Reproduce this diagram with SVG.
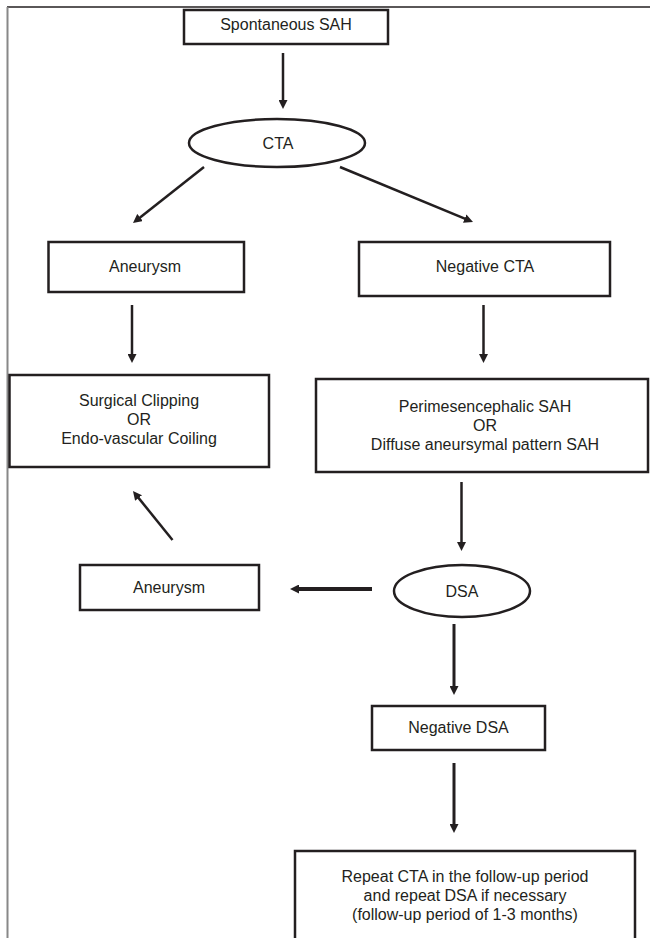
<svg xmlns="http://www.w3.org/2000/svg" width="650" height="938" viewBox="0 0 650 938">
<style>
.box{fill:#fff;stroke:#231f20;stroke-width:2.5}
.t{font-family:"Liberation Sans",Arial,sans-serif;font-size:16px;fill:#231f20;text-anchor:middle}
.c{stroke:#231f20;stroke-width:2.5;fill:none;marker-end:url(#ah)}
</style>
<defs>
<marker id="ah" markerUnits="userSpaceOnUse" viewBox="0 0 9 9" markerWidth="9" markerHeight="9" refX="4" refY="4.5" orient="auto">
<path d="M0,0 L9,4.5 L0,9 z" fill="#231f20"/>
</marker>
</defs>
<rect width="650" height="938" fill="#fff"/>
<g id="frame">
<line x1="7" y1="7" x2="650" y2="7" stroke="#231f20" stroke-width="1.5"/>
<line x1="7.5" y1="7" x2="7.5" y2="938" stroke="#888" stroke-width="2"/>
</g>
<g id="connectors">
<line class="c" x1="283" y1="53" x2="283" y2="104"/>
<line class="c" x1="204" y1="167" x2="136.9" y2="219.9"/>
<line class="c" x1="340" y1="167" x2="468.4" y2="220.1"/>
<line class="c" x1="132" y1="305" x2="132" y2="358"/>
<line class="c" x1="483.5" y1="305" x2="483.5" y2="358"/>
<line class="c" x1="461.5" y1="482" x2="461.5" y2="546"/>
<line class="c" x1="172.5" y1="540" x2="136.1" y2="494.9"/>
<line class="c" x1="372" y1="589" x2="295" y2="589" style="stroke-width:4"/>
<line class="c" x1="454" y1="624" x2="454" y2="690" style="stroke-width:3"/>
<line class="c" x1="454" y1="763" x2="454" y2="828" style="stroke-width:3"/>
</g>
<g id="spontaneous">
<rect class="box" x="184" y="10" width="204" height="34"/>
<text class="t" x="286" y="30">Spontaneous SAH</text>
</g>
<g id="cta">
<ellipse class="box" cx="277" cy="143" rx="88" ry="24"/>
<text class="t" x="278" y="149">CTA</text>
</g>
<g id="aneurysm1">
<rect class="box" x="48.5" y="242" width="195.5" height="50"/>
<text class="t" x="145" y="272">Aneurysm</text>
</g>
<g id="negcta">
<rect class="box" x="359" y="242" width="251" height="54"/>
<text class="t" x="485" y="272">Negative CTA</text>
</g>
<g id="treatment">
<rect class="box" x="9.5" y="375" width="259.5" height="92"/>
<text class="t" x="139" y="406">Surgical Clipping</text>
<text class="t" x="139" y="425">OR</text>
<text class="t" x="139" y="444">Endo-vascular Coiling</text>
</g>
<g id="pattern">
<rect class="box" x="316" y="379" width="332" height="93"/>
<text class="t" x="485" y="412">Perimesencephalic SAH</text>
<text class="t" x="485" y="431">OR</text>
<text class="t" x="485" y="450">Diffuse aneursymal pattern SAH</text>
</g>
<g id="aneurysm2">
<rect class="box" x="80" y="565" width="179" height="45"/>
<text class="t" x="169" y="593">Aneurysm</text>
</g>
<g id="dsa">
<ellipse class="box" cx="462" cy="591" rx="68" ry="26"/>
<text class="t" x="462" y="597">DSA</text>
</g>
<g id="negdsa">
<rect class="box" x="372" y="706" width="173" height="44"/>
<text class="t" x="458.5" y="733">Negative DSA</text>
</g>
<g id="repeat">
<rect class="box" x="295" y="851" width="340" height="100"/>
<text class="t" x="465" y="882">Repeat CTA in the follow-up period</text>
<text class="t" x="465" y="901">and repeat DSA if necessary</text>
<text class="t" x="465" y="920">(follow-up period of 1-3 months)</text>
</g>
</svg>
